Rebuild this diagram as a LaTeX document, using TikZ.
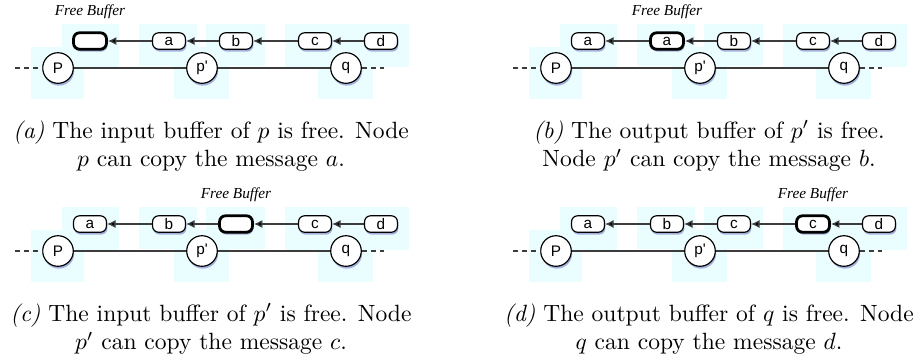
\documentclass[tikz,border=0pt]{standalone}
\usepackage{fontspec}
\newfontfamily\boxfont{Liberation Sans}
\newfontfamily\notefont{Liberation Serif}
\usetikzlibrary{positioning,shadows,arrows.meta}

\definecolor{glowcyan}{RGB}{234,253,255}
\definecolor{linegray}{RGB}{60,60,60}

\tikzset{
  halo/.style={drop shadow={shadow xshift=.4pt, shadow yshift=-1pt,
      fill=blue!55!black, opacity=.3}},
  msgbox/.style={draw, fill=white, rounded corners=2.6pt, minimum width=14pt,
      minimum height=7pt, inner sep=0pt, line width=.5pt, halo,
      font=\boxfont\fontsize{6.5}{7}\selectfont},
  freebox/.style={msgbox, line width=1.2pt},
  peer/.style={draw, fill=white, circle, minimum size=13pt, inner sep=0pt,
      line width=.5pt, halo, font=\boxfont\fontsize{6.5}{7}\selectfont},
  link/.style={draw=linegray, line width=.55pt},
  fwd/.style={link, -{Latex[length=3.6pt,width=3.4pt,fill=black]}},
  glow/.style={fill=glowcyan},
  freelabel/.style={font=\notefont\itshape\fontsize{6.5}{7}\selectfont},
  caption/.style={align=center, font=\normalsize}
}

% one panel: shift, prefix, five slot labels, free slot, caption
\newcommand{\bufrow}[9]{%
  \begin{scope}[shift={(#1)}, name prefix=#2-]
    \tikzset{slot1/.style=msgbox, slot2/.style=msgbox, slot3/.style=msgbox,
      slot4/.style=msgbox, slot5/.style=msgbox, slot#8/.style=freebox}
    % glow behind the nodes
    \fill[glow] (62,24) rectangle (119,67);
    \fill[glow] (31,47) rectangle (84,99);
    \fill[glow] (139,24) rectangle (197,66);
    \fill[glow] (206,24) rectangle (265,66);
    \fill[glow] (174,47) rectangle (229,99);
    \fill[glow] (285,24) rectangle (409,67);
    \fill[glow] (318,47) rectangle (373,99);

    \node[slot1] (s1) at (90,41) {#3};
    \node[slot2] (s2) at (169,41) {#4};
    \node[slot3] (s3) at (236,41) {#5};
    \node[slot4] (s4) at (315,41) {#6};
    \node[slot5] (s5) at (381,41) {#7};
    \node[freelabel, above=2pt of s#8] (note) {Free Buffer};

    \node[peer] (p) at (58,68) {P};
    \node[peer] (pp) at (202,68) {p\textquotesingle};
    \node[peer] (q) at (346,68) {q};
    \coordinate (west) at (15,68);
    \coordinate (east) at (388,68);

    \draw[link, dash pattern=on 2pt off 1.8pt] (west) -- (p);
    \draw[link] (p) -- (pp) -- (q);
    \draw[link, dash pattern=on 2pt off 1.8pt] (q) -- (east);
    \draw[fwd] (s2) -- (s1);
    \draw[fwd] (s3) -- (s2);
    \draw[fwd] (s4) -- (s3);
    \draw[fwd] (s5) -- (s4);

    \node[caption] (cap) at (211,146) {#9};
  \end{scope}}

\begin{document}
\begin{tikzpicture}[x=0.425pt, y=-0.425pt]
  \useasboundingbox (0,0) rectangle (924,356);

  \bufrow{0,0}{ina}{}{a}{b}{c}{d}{1}
    {\textit{(a)} The input buffer of $p$ is free. Node\\ $p$ can copy the message $a$.}
  \bufrow{498,0}{outp}{a}{a}{b}{c}{d}{2}
    {\textit{(b)} The output buffer of $p'$ is free.\\ Node $p'$ can copy the message $b$.}
  \bufrow{0,183}{inp}{a}{b}{}{c}{d}{3}
    {\textit{(c)} The input buffer of $p'$ is free. Node\\ $p'$ can copy the message $c$.}
  \bufrow{498,183}{outq}{a}{b}{c}{c}{d}{4}
    {\textit{(d)} The output buffer of $q$ is free. Node\\ $q$ can copy the message $d$.}
\end{tikzpicture}
\end{document}
